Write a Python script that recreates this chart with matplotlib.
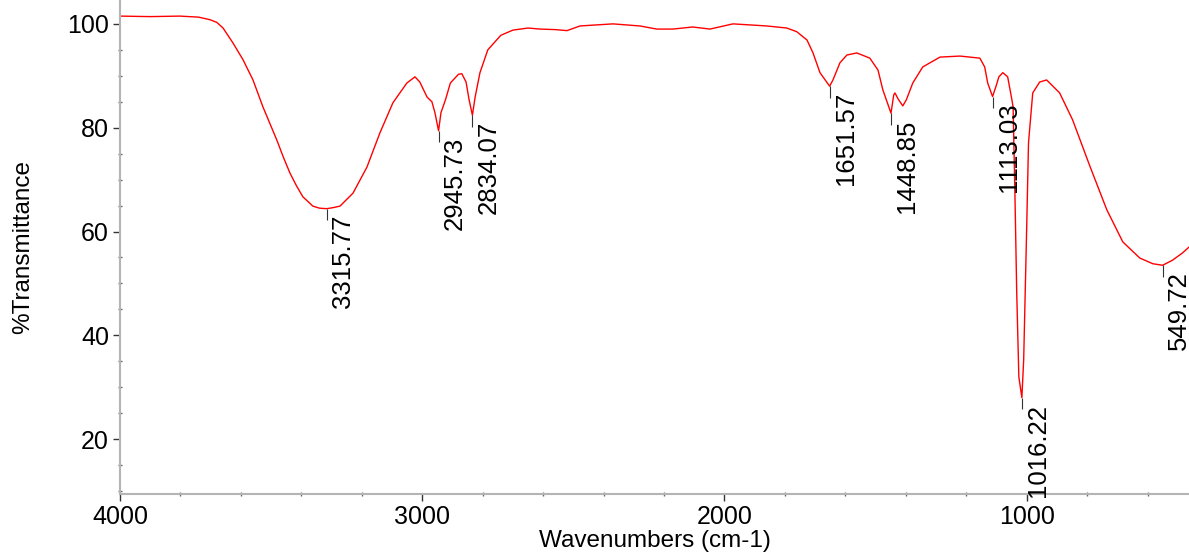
import matplotlib.pyplot as plt
from matplotlib.ticker import MultipleLocator

plt.rcParams['font.family'] = ['Liberation Sans', 'DejaVu Sans']

# IR spectrum (wavenumber in cm-1, %T)
wavenumber = [
    4000, 3900, 3802, 3740, 3702, 3680, 3659, 3626, 3593, 3560, 3527, 3481,
    3460, 3438, 3416, 3395, 3362, 3340, 3316, 3295, 3272, 3229, 3183, 3140,
    3097, 3051, 3024, 3008, 2984, 2968, 2958, 2946, 2938, 2923, 2907, 2880,
    2869, 2855, 2845, 2834, 2825, 2809, 2783, 2740, 2700, 2650, 2611, 2560,
    2521, 2478, 2369, 2280, 2224, 2171, 2105, 2048, 1972, 1860, 1794, 1761,
    1727, 1707, 1684, 1652, 1641, 1618, 1595, 1562, 1519, 1492, 1476, 1449,
    1440, 1436, 1425, 1410, 1398, 1377, 1344, 1287, 1221, 1155, 1139, 1129,
    1113, 1102, 1092, 1079, 1063, 1049, 1045, 1039, 1033, 1026, 1016, 1010,
    1000, 994, 980, 957, 934, 891, 848, 791, 735, 682, 626, 583,
    550, 517, 484, 463,
]
transmittance = [
    101.5, 101.4, 101.5, 101.3, 100.8, 100.3, 99.2, 96.3, 93.1, 89.2, 84.0, 77.6,
    74.4, 71.3, 68.8, 66.7, 64.9, 64.5, 64.4, 64.6, 64.9, 67.4, 72.4, 79.0,
    84.8, 88.6, 89.8, 88.8, 85.9, 85.0, 82.9, 79.4, 82.9, 85.4, 88.6, 90.3,
    90.4, 88.8, 85.4, 82.4, 85.9, 90.6, 95.0, 97.8, 98.8, 99.2, 99.0, 98.9,
    98.7, 99.6, 100.0, 99.6, 99.0, 99.0, 99.4, 99.0, 100.0, 99.6, 99.2, 98.5,
    96.9, 94.4, 90.6, 88.0, 89.2, 92.5, 94.0, 94.4, 93.4, 91.1, 87.3, 82.8,
    86.3, 86.7, 85.5, 84.2, 85.4, 88.6, 91.7, 93.6, 93.8, 93.4, 91.7, 88.6,
    86.0, 87.9, 89.8, 90.6, 89.8, 85.4, 84.0, 67.4, 48.2, 32.0, 28.0, 35.3,
    60.9, 77.1, 86.7, 88.8, 89.2, 86.7, 81.5, 72.6, 64.2, 58.0, 54.9, 53.8,
    53.5, 54.5, 55.9, 57.0,
]

# labelled peaks
peak_wn = [3315.77, 2945.73, 2834.07, 1651.57, 1448.85, 1113.03, 1016.22, 549.72]
peak_t = [64.4, 79.4, 82.4, 88.0, 82.8, 86.0, 28.0, 53.5]

fig = plt.figure(figsize=(11.89, 5.59), dpi=100)
ax = fig.add_axes([120 / 1189, 65 / 559, 1 - 120 / 1189, 1 - 65 / 559])

ax.plot(wavenumber, transmittance, color='red', linewidth=1.0)

for wn, t in zip(peak_wn, peak_t):
    ax.vlines(wn, t - 2.2, t, color='#333333', linewidth=0.8)
    ax.annotate("{:.2f}".format(wn), xy=(wn, t), xytext=(4, -6),
                textcoords='offset pixels', rotation=90,
                ha='left', va='top', fontsize=18.5)

ax.set_xlim(4000, 463)
ax.set_ylim(9.44, 104.6)

ax.xaxis.set_major_locator(MultipleLocator(1000))
ax.xaxis.set_minor_locator(MultipleLocator(200))
ax.yaxis.set_major_locator(MultipleLocator(20))
ax.yaxis.set_minor_locator(MultipleLocator(5))
ax.set_yticks([20, 40, 60, 80, 100])

for side in ['top', 'right']:
    ax.spines[side].set_visible(False)
for side in ['left', 'bottom']:
    ax.spines[side].set_color('#b4b4b4')
    ax.spines[side].set_linewidth(1.5)

ax.tick_params(which='major', direction='out', length=5, width=1,
               color='#333333', labelsize=18, pad=3)
ax.tick_params(which='minor', direction='inout', length=3.5, width=1,
               color='#666666')

ax.set_xlabel("Wavenumbers (cm-1)", fontsize=17.5, labelpad=1)
ax.set_ylabel("%Transmittance", fontsize=17.5)
ax.yaxis.set_label_coords(-86 / 1069, 0.5)

fig.savefig("out.png", dpi=100)
